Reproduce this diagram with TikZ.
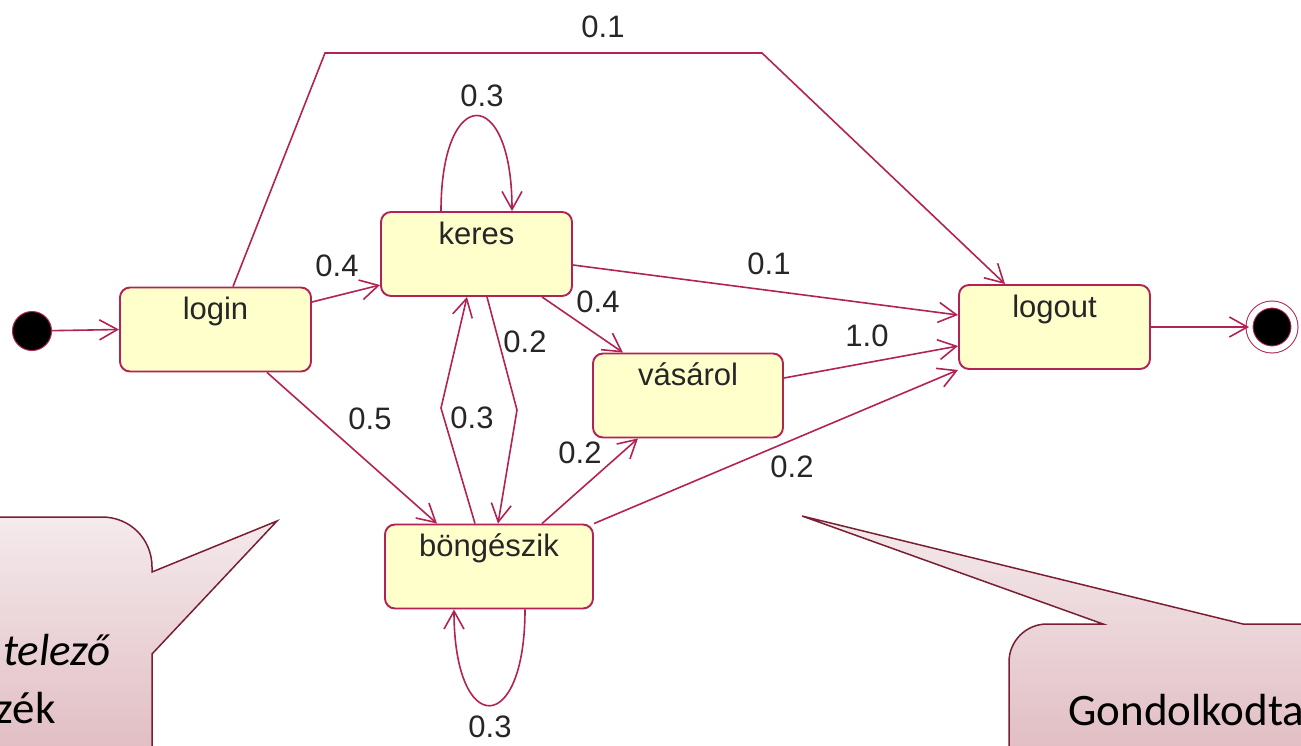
\documentclass[tikz,border=0pt]{standalone}
\usepackage{fontspec}
\setmainfont{Liberation Sans}
\newfontfamily\calloutfont{Carlito}
\usetikzlibrary{arrows.meta, calc}
\definecolor{umlred}{RGB}{178,34,84}
\definecolor{umlyellow}{RGB}{255,255,204}
\definecolor{noteline}{RGB}{122,30,50}
\definecolor{notetop}{RGB}{244,234,236}
\definecolor{notebottom}{RGB}{224,188,194}
\tikzstyle{umlstate} = [rectangle, rounded corners=5pt, minimum width=95.5pt, text height=16pt, text depth=26pt, inner ysep=0pt, draw=umlred, line width=0.95pt, fill=umlyellow, text=black!85, font=\fontsize{15.5}{18}\selectfont]
\tikzstyle{startdot} = [circle, minimum size=19.5pt, inner sep=0pt, draw=umlred, line width=0.5pt, fill=black]
\tikzstyle{enddot} = [circle, minimum size=22.5pt, inner sep=0pt, draw=umlred, line width=0.5pt, double=white, double distance=3pt, fill=black]
\tikzstyle{trans} = [draw=umlred, line width=0.8pt, -{Straight Barb[length=9pt, width=10pt]}]
\tikzstyle{prob} = [inner sep=0pt, text=black!85, font=\fontsize{15.5}{18}\selectfont]
\tikzstyle{note} = [draw=noteline, line width=0.75pt, top color=notetop, bottom color=notebottom]
\tikzstyle{notetext} = [inner sep=0pt, text=black, font=\calloutfont\fontsize{22.5}{27}\selectfont]

\begin{document}
\begin{tikzpicture}[x=0.5pt, y=-0.5pt]
		\useasboundingbox (0,0) rectangle (1301,745);
		\clip (0,0) rectangle (1301,745);
		% callouts
		\draw [note] (-20,517) -- (102,517) .. controls (130,517) and (152,539) .. (152,567) -- (152,572) -- (277,521) -- (152,654) -- (152,760) -- (-20,760) -- cycle;
		\draw [note] (1320,624) -- (1243,624) -- (802,516) -- (1103,624) -- (1047,624) .. controls (1026,624) and (1009,641) .. (1009,662) -- (1009,760) -- (1320,760) -- cycle;
		\node (notea) [notetext, anchor=base east] at (111,665) {\itshape telező};
		\node (noteb) [notetext, anchor=base east] at (56,723) {zék};
		\node (notec) [notetext, anchor=base west] at (1068,725) {Gondolkodta};
		% states
		\node (start) [startdot] at (32,331) {};
		\node (login) [umlstate] at (215.5,329.5) {login};
		\node (keres) [umlstate] at (476.5,254) {keres};
		\node (vasarol) [umlstate, minimum width=95pt] at (688,395.5) {vásárol};
		\node (bongeszik) [umlstate, minimum width=104pt] at (489,566.5) {böngészik};
		\node (logout) [umlstate] at (1054.5,327) {logout};
		\node (stop) [enddot] at (1272,327) {};
		\coordinate (bendl) at (325,53);
		\coordinate (bendr) at (762,53);
		\coordinate (kb) at (517,410);
		\coordinate (bk) at (441,408);
		% transitions
		\draw [trans] (start) -- (login.west);
		\draw [trans] ($(login.east)+(0,-27.5)$) -- ($(keres.west)+(0,31)$);
		\draw [trans] ($(login.north)+(17.5,0)$) -- (bendl) -- (bendr) -- ($(logout.north)+(-49.5,0)$);
		\draw [trans] ($(login.south)+(51.5,0)$) -- ($(bongeszik.north)+(-52,0)$);
		\draw [trans] ($(keres.north)+(-35.5,0)$) .. controls +(0,-127) and +(0,-127) .. ($(keres.north)+(35.5,0)$);
		\draw [trans] ($(keres.east)+(0,11)$) -- ($(logout.west)+(0,-12)$);
		\draw [trans] ($(keres.south)+(65.5,0)$) -- ($(vasarol.north)+(-65,0)$);
		\draw [trans] ($(keres.south)+(10.5,0)$) -- (kb) -- ($(bongeszik.north)+(9,0)$);
		\draw [trans] ($(bongeszik.north)+(-14,0)$) -- (bk) -- ($(keres.south)+(-9.5,0)$);
		\draw [trans] ($(bongeszik.north)+(53,0)$) -- ($(vasarol.south)+(-50,0)$);
		\draw [trans] (bongeszik.north east) -- (logout.south west);
		\draw [trans] ($(bongeszik.south)+(36,0)$) .. controls +(0,128) and +(0,128) .. ($(bongeszik.south)+(-35,0)$);
		\draw [trans] ($(vasarol.east)+(0,-17.5)$) -- ($(logout.west)+(0,19)$);
		\draw [trans] (logout.east) -- (stop);
		% probabilities
		\node (pa) [prob] at (603,27) {0.1};
		\node (pb) [prob] at (482,96) {0.3};
		\node (pc) [prob] at (337,266) {0.4};
		\node (pd) [prob] at (769,264) {0.1};
		\node (pe) [prob] at (598,302) {0.4};
		\node (pf) [prob] at (525,342) {0.2};
		\node (pg) [prob] at (867,336) {1.0};
		\node (ph) [prob] at (370,419) {0.5};
		\node (pi) [prob] at (472,418) {0.3};
		\node (pj) [prob] at (580,453) {0.2};
		\node (pk) [prob] at (792,467) {0.2};
		\node (pl) [prob] at (490,727) {0.3};
	\end{tikzpicture}
\end{document}
